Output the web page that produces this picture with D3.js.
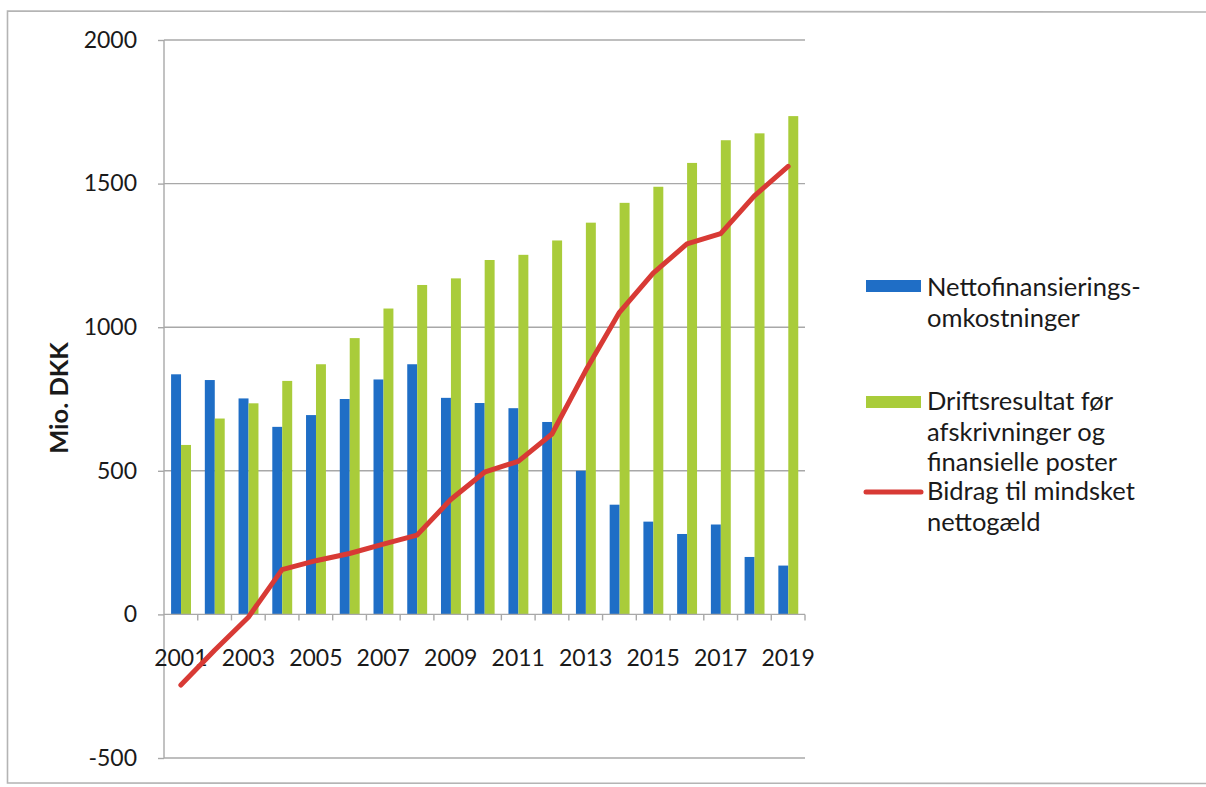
<!DOCTYPE html>
<html>
<head>
<meta charset="utf-8">
<script src="https://cdn.jsdelivr.net/npm/d3@7"></script>
<style>
  html, body { margin: 0; padding: 0; background: #fff; }
  svg { display: block; }
  text { font-family: Lato, "Open Sans", sans-serif; fill: #1a1a1a; }
</style>
</head>
<body>
<svg id="chart" width="1206" height="787"></svg>
<script>
// Years on the category axis
const years = d3.range(2001, 2020);
// Net financing costs (Mio. DKK)
const nettofinansiering = [836, 816, 752, 653, 694, 750, 818, 871, 754, 736, 718, 670, 500, 382, 323, 280, 313, 200, 170];
// Operating result before depreciation and financial items (Mio. DKK)
const driftsresultat = [590, 682, 735, 813, 871, 962, 1065, 1147, 1170, 1234, 1252, 1302, 1364, 1433, 1489, 1572, 1651, 1675, 1735];
// Contribution to reduced net debt (Mio. DKK)
const bidrag = [-246, -125, -10, 156, 187, 212, 245, 276, 400, 495, 533, 628, 849, 1052, 1188, 1290, 1326, 1457, 1560];
// Value axis ticks
const yTicks = [-500, 0, 500, 1000, 1500, 2000];
// Years that carry a label on the category axis
const xLabelYears = years.filter(y => (y - 2001) % 2 === 0);

const seriesNames = ["Nettofinansieringsomkostninger", "Driftsresultat"];
const colors = { blue: "#1f6ec6", green: "#a9cc3a", red: "#d83a35" };

const svg = d3.select("#chart");

// Outer frame
svg.append("path")
  .attr("d", "M1206,12 L7.5,11 L7.5,783 L1206,783.5")
  .attr("fill", "none").attr("stroke", "#b4b4b4").attr("stroke-width", 1.6);

const plot = { left: 164, right: 805, top: 40, bottom: 758 };

const x = d3.scaleBand().domain(years).range([plot.left, plot.right]).padding(0);
const xSub = d3.scaleBand().domain(seriesNames)
  .range([x.bandwidth() * 0.21, x.bandwidth() * 0.8]).padding(0);
const y = d3.scaleLinear().domain([-500, 2000]).range([plot.bottom, plot.top]);

// Horizontal gridlines
svg.append("g").selectAll("line").data(yTicks.filter(t => t !== 0)).join("line")
  .attr("x1", plot.left).attr("x2", plot.right)
  .attr("y1", d => y(d)).attr("y2", d => y(d))
  .attr("stroke", "#a8a8a8").attr("stroke-width", 1.4);

// Value axis
const yAxis = svg.append("g")
  .attr("transform", `translate(${plot.left},0)`)
  .call(d3.axisLeft(y).tickValues(yTicks).tickSize(6).tickPadding(21).tickFormat(d => String(d)));
yAxis.select(".domain").attr("stroke", "#a8a8a8").attr("stroke-width", 1.4)
  .attr("d", `M0,${y(2000)}V${y(-500)}`);
yAxis.selectAll(".tick line").attr("stroke", "#a8a8a8").attr("stroke-width", 1.4);
yAxis.selectAll(".tick text")
  .style("font-family", "Lato, sans-serif").style("font-size", "23px").attr("fill", "#1a1a1a");

// Axis title
svg.append("text")
  .attr("transform", `translate(68,398) rotate(-90)`)
  .attr("text-anchor", "middle")
  .style("font-size", "25.5px").style("font-weight", "bold")
  .text("Mio. DKK");

// Bars
const barData = years.map((yr, i) => ({ yr, vals: [nettofinansiering[i], driftsresultat[i]] }));
const groups = svg.append("g").selectAll("g").data(barData).join("g")
  .attr("transform", d => `translate(${x(d.yr)},0)`);
groups.selectAll("rect")
  .data(d => d.vals.map((v, k) => ({ key: seriesNames[k], v })))
  .join("rect")
  .attr("x", d => xSub(d.key))
  .attr("width", xSub.bandwidth())
  .attr("y", d => y(Math.max(0, d.v)))
  .attr("height", d => Math.abs(y(d.v) - y(0)))
  .attr("fill", d => d.key === seriesNames[0] ? colors.blue : colors.green);

// Category axis at zero
const xAxis = svg.append("g")
  .attr("transform", `translate(0,${y(0)})`)
  .call(d3.axisBottom(x).tickSize(0).tickFormat(d => xLabelYears.includes(d) ? d : ""));
xAxis.select(".domain").attr("stroke", "#a8a8a8").attr("stroke-width", 1.4)
  .attr("d", `M${plot.left},0H${plot.right}`);
xAxis.selectAll(".tick text")
  .attr("dy", 0).attr("y", 52)
  .style("font-family", "Lato, sans-serif").style("font-size", "23px").attr("fill", "#1a1a1a");
// Tick marks on the category boundaries
xAxis.append("g").selectAll("line").data(years).join("line")
  .attr("x1", d => x(d) + x.step())
  .attr("x2", d => x(d) + x.step())
  .attr("y1", 0).attr("y2", 6)
  .attr("stroke", "#a8a8a8").attr("stroke-width", 1.4);

// Line series
const line = d3.line()
  .x((d, i) => x(years[i]) + x.bandwidth() / 2)
  .y(d => y(d));
svg.append("path").datum(bidrag)
  .attr("d", line)
  .attr("fill", "none").attr("stroke", colors.red)
  .attr("stroke-width", 5).attr("stroke-linejoin", "round").attr("stroke-linecap", "round");

// Legend
const legend = svg.append("g").style("font-size", "25.5px");
const legendItems = [
  { type: "rect", color: colors.blue, cy: 286, lines: ["Nettofinansierings-", "omkostninger"], base: 296 },
  { type: "rect", color: colors.green, cy: 402, lines: ["Driftsresultat før", "afskrivninger og", "finansielle poster"], base: 410 },
  { type: "line", color: colors.red, cy: 492, lines: ["Bidrag til mindsket", "nettogæld"], base: 500 }
];
legendItems.forEach(item => {
  if (item.type === "rect") {
    legend.append("rect").attr("x", 866).attr("y", item.cy - 6).attr("width", 55).attr("height", 12)
      .attr("fill", item.color);
  } else {
    legend.append("line").attr("x1", 866).attr("x2", 921).attr("y1", item.cy).attr("y2", item.cy)
      .attr("stroke", item.color).attr("stroke-width", 5).attr("stroke-linecap", "round");
  }
  item.lines.forEach((t, k) => {
    legend.append("text").attr("x", 927).attr("y", item.base + k * 30.5).text(t);
  });
});
</script>
</body>
</html>
